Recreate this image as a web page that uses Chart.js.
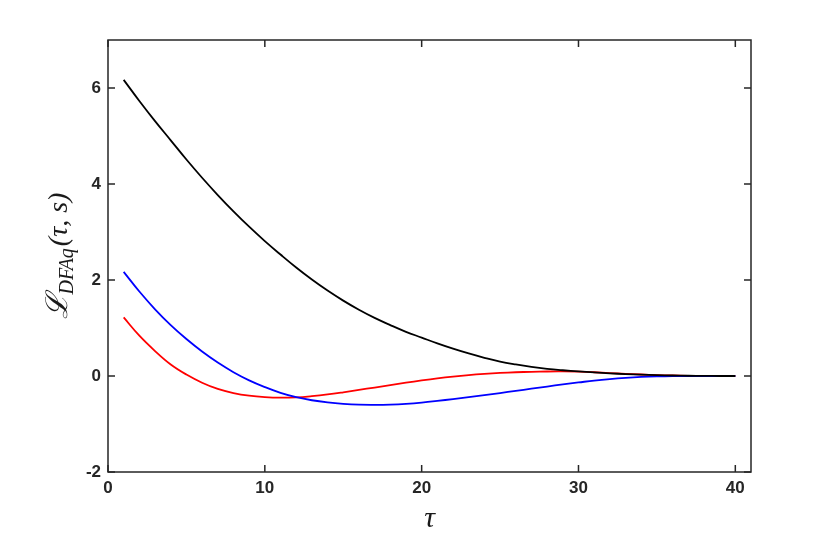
<!DOCTYPE html>
<html>
<head>
<meta charset="utf-8">
<script src="https://cdn.jsdelivr.net/npm/chart.js@4/dist/chart.umd.min.js"></script>
<style>
  html, body { margin: 0; padding: 0; background: #fff; }
  #wrap { width: 830px; height: 538px; }
</style>
</head>
<body>
<div id="wrap"><canvas id="chart" width="830" height="538"></canvas></div>
<script>
const tau = [1, 2, 3, 4, 5, 6, 7, 8, 9, 10, 11, 12, 13, 14, 15, 16, 17, 18, 19, 20,
  21, 22, 23, 24, 25, 26, 27, 28, 29, 30, 31, 32, 33, 34, 35, 36, 37, 38, 39, 40];

const blackVals = [6.17, 5.73, 5.31, 4.91, 4.51, 4.13, 3.77, 3.43, 3.11, 2.81,
  2.53, 2.26, 2.01, 1.78, 1.57, 1.38, 1.21, 1.06, 0.92, 0.80,
  0.68, 0.57, 0.47, 0.38, 0.30, 0.24, 0.19, 0.15, 0.12, 0.095,
  0.074, 0.055, 0.04, 0.027, 0.017, 0.01, 0.005, 0.002, 0, 0];

const blueVals = [2.17, 1.76, 1.39, 1.06, 0.77, 0.51, 0.28, 0.08, -0.09, -0.23,
  -0.35, -0.44, -0.505, -0.55, -0.58, -0.597, -0.60, -0.595, -0.58, -0.555,
  -0.52, -0.48, -0.44, -0.40, -0.355, -0.31, -0.265, -0.22, -0.175, -0.135,
  -0.095, -0.063, -0.038, -0.02, -0.009, -0.003, 0, 0, 0, 0];

const redVals = [1.22, 0.84, 0.52, 0.24, 0.03, -0.14, -0.27, -0.355, -0.41, -0.44,
  -0.452, -0.445, -0.42, -0.385, -0.34, -0.29, -0.24, -0.19, -0.14, -0.093,
  -0.05, -0.013, 0.018, 0.043, 0.063, 0.078, 0.088, 0.094, 0.095, 0.09,
  0.078, 0.062, 0.046, 0.031, 0.019, 0.01, 0.004, 0.001, 0, 0];

const xTicks = [0, 10, 20, 30, 40];
const yTicks = [-2, 0, 2, 4, 6];

const axisColor = '#262626';
const tickFont = { family: '"Liberation Sans", Arial, sans-serif', size: 17, weight: 'bold' };
const mathFont = '"Liberation Serif", "DejaVu Serif", serif';

function series(vals, color) {
  return {
    data: tau.map((t, i) => ({ x: t, y: vals[i] })),
    borderColor: color,
    borderWidth: 1.8,
    pointRadius: 0,
    fill: false,
    tension: 0.4,
  };
}

// frame with inward ticks on all four sides, plus the axis labels
const frame = {
  id: 'frame',
  afterDraw(c) {
    const { ctx, chartArea: a, scales } = c;
    ctx.save();
    ctx.strokeStyle = axisColor;
    ctx.lineWidth = 1.5;
    ctx.strokeRect(a.left, a.top, a.right - a.left, a.bottom - a.top);
    const tl = 7;
    ctx.beginPath();
    for (const v of xTicks) {
      const px = scales.x.getPixelForValue(v);
      ctx.moveTo(px, a.bottom); ctx.lineTo(px, a.bottom - tl);
      ctx.moveTo(px, a.top); ctx.lineTo(px, a.top + tl);
    }
    for (const v of yTicks) {
      const py = scales.y.getPixelForValue(v);
      ctx.moveTo(a.left, py); ctx.lineTo(a.left + tl, py);
      ctx.moveTo(a.right, py); ctx.lineTo(a.right - tl, py);
    }
    ctx.stroke();

    ctx.fillStyle = '#1a1a1a';
    // x label
    ctx.font = 'italic 30px ' + mathFont;
    ctx.textAlign = 'center';
    ctx.textBaseline = 'alphabetic';
    ctx.fillText('τ', (a.left + a.right) / 2, 527);

    // y label: L_{DFAq}(τ, s), rotated
    ctx.translate(67, (a.top + a.bottom) / 2);
    ctx.rotate(-Math.PI / 2);
    const big = 'italic 30px ' + mathFont;
    const sub = 'italic 20px ' + mathFont;
    const mid = 'italic 28px ' + mathFont;
    ctx.textAlign = 'left';
    ctx.font = big; const w1 = ctx.measureText('ℒ').width;
    ctx.font = sub; const w2 = ctx.measureText('DFAq').width;
    ctx.font = mid; const w3 = ctx.measureText('(τ, s)').width;
    let x0 = -(w1 + w2 + w3 + 2) / 2;
    ctx.font = big; ctx.fillText('ℒ', x0, 0); x0 += w1;
    ctx.font = sub; ctx.fillText('DFAq', x0, 6); x0 += w2 + 2;
    ctx.font = mid; ctx.fillText('(τ, s)', x0, 0);
    ctx.restore();
  },
};

new Chart(document.getElementById('chart'), {
  type: 'line',
  data: { datasets: [series(blackVals, '#000000'), series(blueVals, '#0000ff'), series(redVals, '#ff0000')] },
  options: {
    responsive: false,
    animation: false,
    layout: { padding: { left: 0, top: 40, right: 79, bottom: 0 } },
    plugins: { legend: { display: false }, tooltip: { enabled: false } },
    scales: {
      x: {
        type: 'linear', min: 0, max: 41,
        grid: { display: false, drawTicks: false },
        border: { display: false },
        afterBuildTicks: (s) => { s.ticks = xTicks.map((v) => ({ value: v })); },
        afterFit: (s) => { s.height = 66; },
        ticks: { color: axisColor, font: tickFont, padding: 6, maxRotation: 0 },
      },
      y: {
        type: 'linear', min: -2, max: 7,
        grid: { display: false, drawTicks: false },
        border: { display: false },
        afterBuildTicks: (s) => { s.ticks = yTicks.map((v) => ({ value: v })); },
        afterFit: (s) => { s.width = 108; },
        ticks: { color: axisColor, font: tickFont, padding: 7 },
      },
    },
  },
  plugins: [frame],
});
</script>
</body>
</html>
